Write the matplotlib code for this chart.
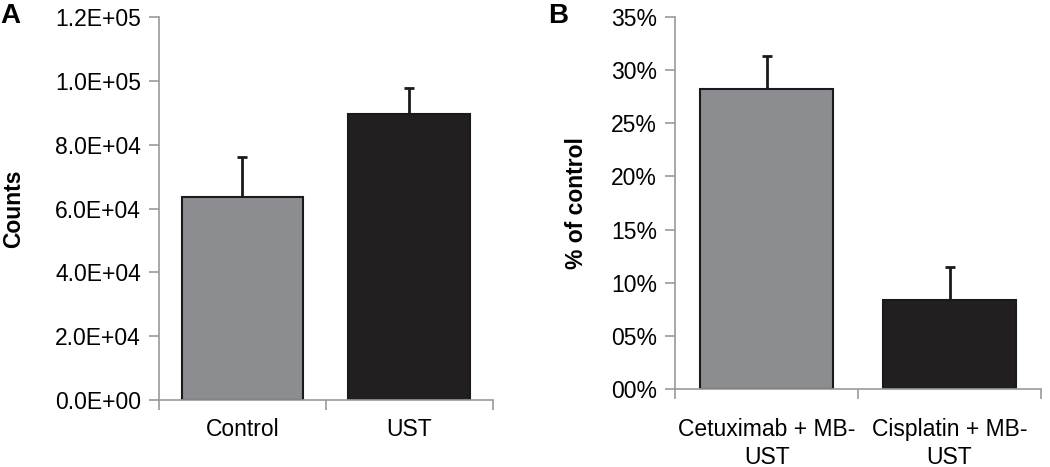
import matplotlib
matplotlib.use("Agg")
import matplotlib.pyplot as plt
import numpy as np
from matplotlib.ticker import FuncFormatter

plt.rcParams['font.family'] = ['Liberation Sans', 'DejaVu Sans']

# panel A data
counts_labels = ["Control", "UST"]
counts_values = [6.35e4, 8.96e4]
counts_err = [1.25e4, 0.82e4]

# panel B data
pct_labels = ["Cetuximab + MB-\nUST", "Cisplatin + MB-\nUST"]
pct_values = [0.282, 0.084]
pct_err = [0.031, 0.031]

BAR_COLORS = ["#8c8d91", "#231f20"]
AXIS_GRAY = "#9a9a9a"
FS = 16.5


def style_axes(ax, n):
    for side in ("top", "right"):
        ax.spines[side].set_visible(False)
    for side in ("left", "bottom"):
        ax.spines[side].set_color(AXIS_GRAY)
        ax.spines[side].set_linewidth(1.2)
    ax.set_xlim(-0.5, n - 0.5)
    ax.set_xticks(np.arange(n))
    ax.set_xticks(np.arange(n + 1) - 0.5, minor=True)
    ax.tick_params(axis="x", which="major", length=0, labelsize=FS, pad=13)
    ax.tick_params(axis="x", which="minor", length=7, width=1.2, color=AXIS_GRAY)
    ax.tick_params(axis="y", length=7, width=1.2, color=AXIS_GRAY, labelsize=FS, pad=6)


def draw_bars(ax, values, errs):
    x = np.arange(len(values))
    ax.bar(x, values, width=0.73, color=BAR_COLORS, edgecolor="#1a1a1a",
           linewidth=1.5, zorder=2)
    ax.errorbar(x, values, yerr=[np.zeros(len(errs)), errs], fmt="none",
                ecolor="#1a1a1a", elinewidth=2, capsize=3.6, capthick=2, zorder=1)


fig = plt.figure(figsize=(10.5, 4.67), dpi=100)

axA = fig.add_axes([0.1514, 0.1435, 0.318, 0.82])
draw_bars(axA, counts_values, counts_err)
style_axes(axA, len(counts_values))
axA.set_ylim(0, 1.2e5)
axA.set_yticks(np.arange(0, 1.21e5, 2e4))
axA.yaxis.set_major_formatter(FuncFormatter(lambda v, p: "%.1E" % v))
axA.set_xticklabels(counts_labels)
axA.set_ylabel("Counts", fontsize=FS, fontweight="bold")
axA.yaxis.set_label_coords(-0.40, 0.5)
fig.text(0.0, 0.994, "A", fontsize=20, fontweight="bold", va="top", ha="left")

axB = fig.add_axes([0.643, 0.167, 0.3484, 0.7966])
draw_bars(axB, pct_values, pct_err)
style_axes(axB, len(pct_values))
axB.set_ylim(0, 0.35)
axB.set_yticks(np.arange(0, 0.351, 0.05))
axB.yaxis.set_major_formatter(FuncFormatter(lambda v, p: "%02d%%" % round(v * 100)))
axB.set_xticklabels(pct_labels, linespacing=1.25)
axB.tick_params(axis="x", which="major", pad=21)
axB.set_ylabel("% of control", fontsize=FS, fontweight="bold")
axB.yaxis.set_label_coords(-0.237, 0.5)
fig.text(0.522, 0.994, "B", fontsize=20, fontweight="bold", va="top", ha="left")

fig.savefig("out.png", dpi=100)
